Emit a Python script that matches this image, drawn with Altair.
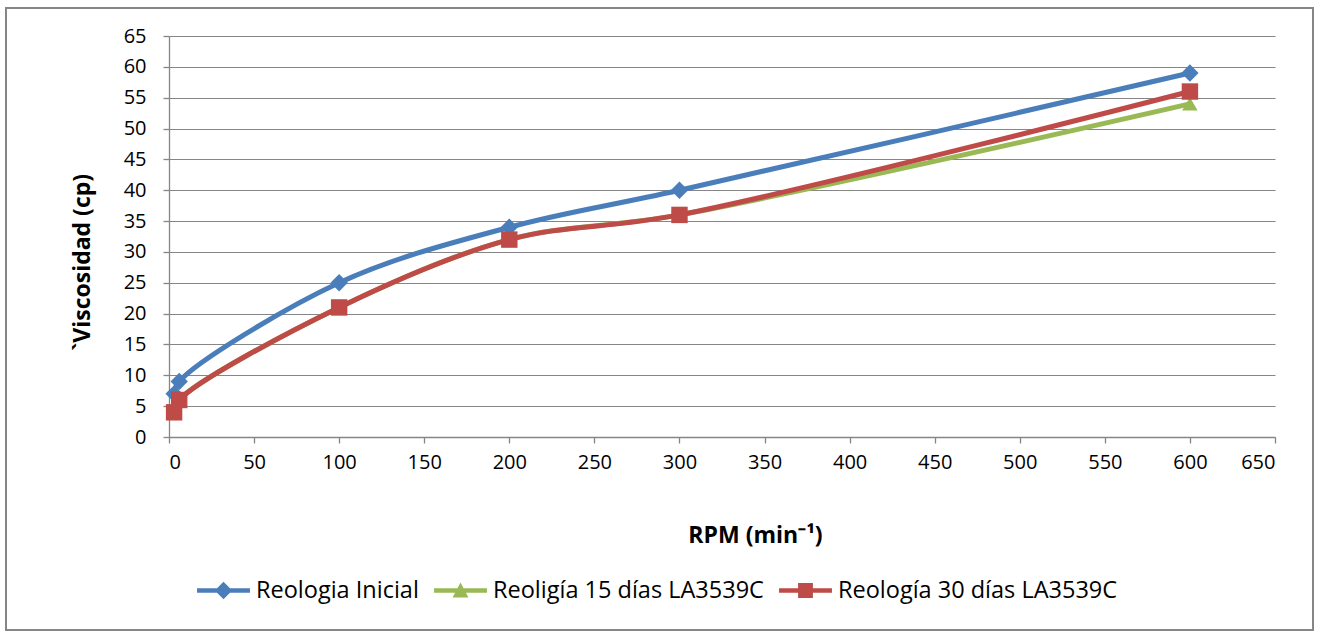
import altair as alt
import pandas as pd

rpm = [3, 6, 100, 200, 300, 600]
series = ["Reologia Inicial", "Reoligía 15 días LA3539C", "Reología 30 días LA3539C"]
inicial = [7, 9, 25, 34, 40, 59]
dias15 = [4, 6, 21, 32, 36, 54]
dias30 = [4, 6, 21, 32, 36, 56]
colors = ["#4A7EBB", "#98B954", "#BE4B48"]
markers = ["diamond", "triangle-up", "square"]
marker_sizes = [300, 240, 270]
x_ticks = list(range(0, 651, 50))
y_ticks = list(range(0, 66, 5))

# legend glyphs: a horizontal line with the series marker on it
legend_paths = [
    "M-1,-0.085H1V0.085H-1Z M0,-0.33L0.33,0L0,0.33L-0.33,0Z",
    "M-1,-0.085H1V0.085H-1Z M0,-0.3L0.3,0.26L-0.3,0.26Z",
    "M-1,-0.085H1V0.085H-1Z M-0.28,-0.28H0.28V0.28H-0.28Z",
]

rows = []
for name, vals in zip(series, [inicial, dias15, dias30]):
    for r, v in zip(rpm, vals):
        rows.append({"rpm": r, "visc": v, "serie": name})
df = pd.DataFrame(rows)

FONT = "Open Sans"
cscale = alt.Scale(domain=series, range=colors)

xenc = alt.X(
    "rpm:Q",
    scale=alt.Scale(domain=[0, 650], nice=False, zero=False),
    axis=alt.Axis(
        values=x_ticks, title="RPM (min⁻¹)", grid=False, format="d",
        labelPadding=9, tickSize=6,
        titleX=586, titleY=98, titleAlign="center", titleBaseline="middle",
        titleFontWeight="bold", titleFontSize=23,
    ),
)
yenc = alt.Y(
    "visc:Q",
    scale=alt.Scale(domain=[0, 65], nice=False),
    axis=alt.Axis(
        values=y_ticks, title="`Viscosidad (cp)", grid=True, format="d",
        labelPadding=17, tickSize=6,
        titleX=-87, titleY=226, titleAlign="center", titleBaseline="middle",
        titleFontWeight="bold", titleFontSize=23, titleAngle=270,
    ),
)

base = alt.Chart(df).encode(x=xenc, y=yenc)

frame = alt.Chart(df).mark_rect(fillOpacity=0, stroke="#868686", strokeWidth=1.3).encode(
    x=alt.value(-163), x2=alt.value(1144), y=alt.value(-28), y2=alt.value(594)
)

layers = [frame]
for name, shp, sz, col in zip(series, markers, marker_sizes, colors):
    sub = base.transform_filter(alt.datum.serie == name)
    layers.append(sub.mark_line(strokeWidth=5, interpolate="catmull-rom", color=col))
    layers.append(sub.mark_point(shape=shp, filled=True, size=sz, opacity=1, color=col))

leg = alt.Legend(
    title=None, orient="none", direction="horizontal", legendX=28, legendY=528,
    symbolSize=2800, symbolStrokeWidth=0, symbolOpacity=1,
    labelFont=FONT, labelFontSize=23.5, labelColor="#000000", labelLimit=0,
    labelOffset=6, columnPadding=15, padding=0,
)
legend_layer = base.mark_point(filled=True, opacity=0).encode(
    color=alt.Color("serie:N", scale=cscale, legend=leg),
    shape=alt.Shape("serie:N", scale=alt.Scale(domain=series, range=legend_paths), legend=leg),
)
layers.append(legend_layer)

chart = (
    alt.layer(*layers)
    .properties(
        width=1106, height=401,
        autosize=alt.AutoSizeParams(type="none"),
        padding={"left": 169, "top": 36, "right": 46, "bottom": 201},
        background="white",
    )
    .configure_view(stroke=None)
    .configure_axis(
        domainColor="#868686", tickColor="#868686", gridColor="#868686",
        gridWidth=1, domainWidth=1.3, tickWidth=1.3,
        labelFont=FONT, labelFontSize=20, labelColor="#000000",
        titleFont=FONT, titleColor="#000000",
    )
)

chart.save("out.html", embed_options={"renderer": "svg", "actions": False})
